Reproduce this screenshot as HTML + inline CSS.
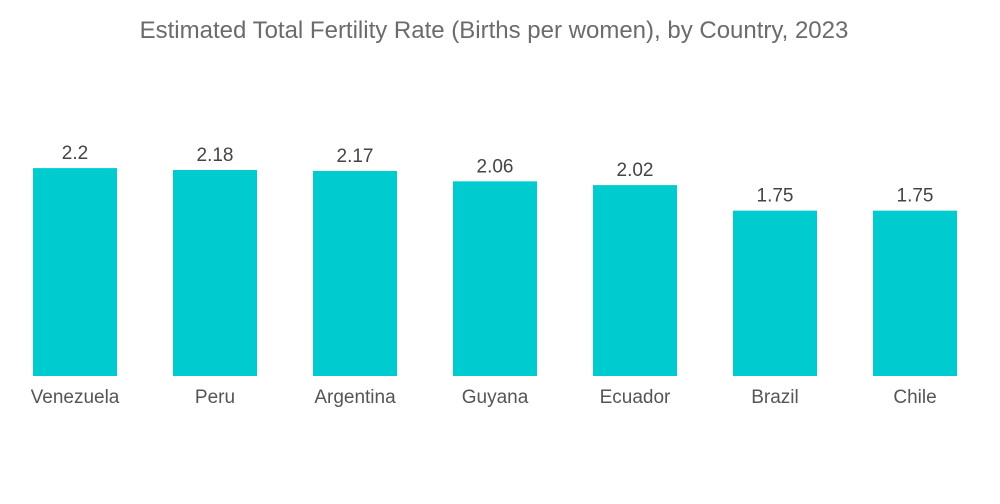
<!DOCTYPE html>
<html><head><meta charset="utf-8"><style>
body{margin:0;background:#fff;}
svg{display:block;font-family:"Liberation Sans",sans-serif;}
</style></head><body>
<svg id="chart" width="1000" height="504">
<text x="494" y="38" text-anchor="middle" font-size="24" fill="#6b6b6b">Estimated Total Fertility Rate (Births per women), by Country, 2023</text>
<g id="bars"></g>
</svg>
<script>
const categories=["Venezuela","Peru","Argentina","Guyana","Ecuador","Brazil","Chile"];
const values=[2.2,2.18,2.17,2.06,2.02,1.75,1.75];
const valueLabels=["2.2","2.18","2.17","2.06","2.02","1.75","1.75"];
const baseY=376, pxPerUnit=94.5, step=140, firstCenter=75, barW=84;
function xScale(i){return firstCenter+i*step;}
function yScale(v){return baseY-v*pxPerUnit;}
const g=document.getElementById('bars');
const ns="http://www.w3.org/2000/svg";
categories.forEach((c,i)=>{
  const cx=xScale(i), top=yScale(values[i]);
  const r=document.createElementNS(ns,'rect');
  r.setAttribute('x',cx-barW/2);r.setAttribute('y',top);
  r.setAttribute('width',barW);r.setAttribute('height',baseY-top);
  r.setAttribute('fill','#00cccf');
  
  
  g.appendChild(r);
  const t=document.createElementNS(ns,'text');
  t.setAttribute('x',cx);t.setAttribute('y',top-9);
  t.setAttribute('text-anchor','middle');t.setAttribute('font-size','19');t.setAttribute('fill','#444');
  t.textContent=valueLabels[i];
  
  
  g.appendChild(t);
  const l=document.createElementNS(ns,'text');
  l.setAttribute('x',cx);l.setAttribute('y',403);
  l.setAttribute('text-anchor','middle');l.setAttribute('font-size','19');l.setAttribute('fill','#555');
  l.textContent=c;
  
  
  g.appendChild(l);
});
</script>
</body></html>
